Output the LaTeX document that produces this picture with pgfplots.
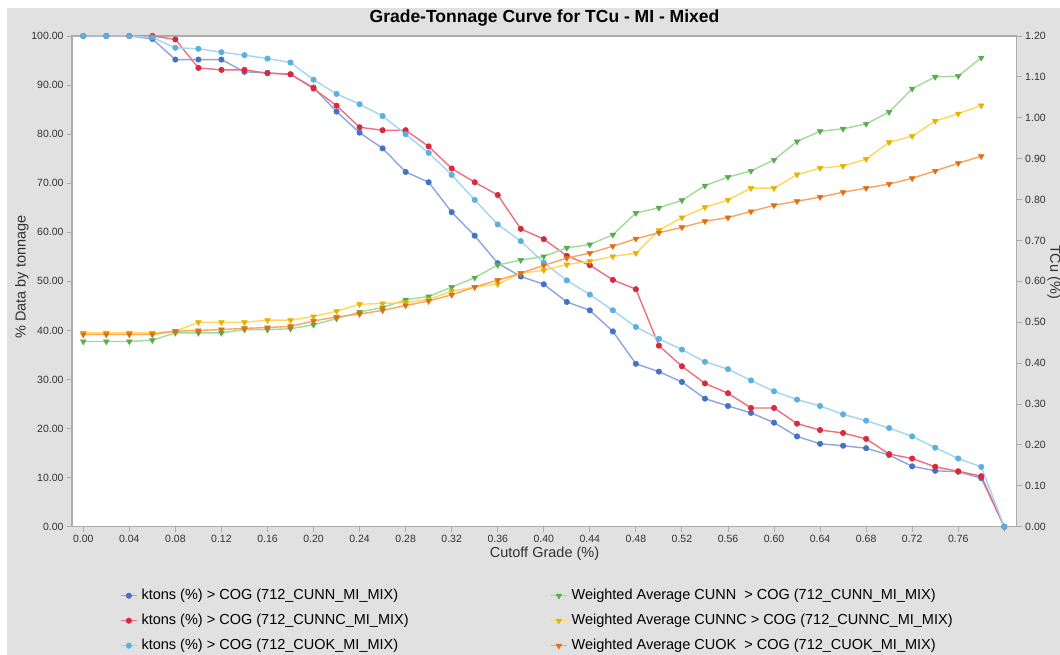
\documentclass[border=0pt]{standalone}
\usepackage{fontspec}
\setmainfont{Liberation Sans}
\usepackage{pgfplots}
\usepackage{pgfplotstable}
\pgfplotsset{compat=1.18}

\definecolor{bgc}{RGB}{225,225,225}
\definecolor{axc}{RGB}{172,172,172}
\definecolor{tlc}{RGB}{50,50,50}
\definecolor{blueM}{RGB}{68,114,196}
\definecolor{blueL}{RGB}{140,165,222}
\definecolor{redM}{RGB}{220,40,60}
\definecolor{redL}{RGB}{240,110,125}
\definecolor{cyanM}{RGB}{91,176,224}
\definecolor{cyanL}{RGB}{160,215,242}
\definecolor{greenM}{RGB}{90,170,80}
\definecolor{greenL}{RGB}{160,220,150}
\definecolor{yellowM}{RGB}{228,178,0}
\definecolor{yellowL}{RGB}{255,215,90}
\definecolor{orangeM}{RGB}{225,110,20}
\definecolor{orangeL}{RGB}{250,165,95}

% ktons (%) above cut-off, 0.00 .. 0.80
\pgfplotstableread{
x     cunn  cunnc cuok
0.00  100   100   100
0.02  100   100   100
0.04  100   100   100
0.06  99.4  100   99.7
0.08  95.2  99.3  97.6
0.10  95.2  93.5  97.4
0.12  95.2  93.1  96.7
0.14  92.7  93.1  96.1
0.16  92.5  92.4  95.4
0.18  92.2  92.2  94.6
0.20  89.5  89.3  91.1
0.22  84.6  85.8  88.2
0.24  80.3  81.4  86.1
0.26  77.1  80.8  83.7
0.28  72.3  80.8  80.0
0.30  70.2  77.5  76.2
0.32  64.1  73.0  71.7
0.34  59.3  70.2  66.6
0.36  53.7  67.6  61.6
0.38  51.0  60.7  58.2
0.40  49.4  58.6  53.8
0.42  45.8  55.2  50.2
0.44  44.1  53.3  47.3
0.46  39.8  50.3  44.1
0.48  33.2  48.4  40.7
0.50  31.6  36.9  38.3
0.52  29.5  32.7  36.1
0.54  26.1  29.2  33.6
0.56  24.6  27.2  32.1
0.58  23.2  24.2  29.8
0.60  21.2  24.2  27.6
0.62  18.4  21.0  25.9
0.64  16.9  19.7  24.6
0.66  16.5  19.1  22.9
0.68  16.0  17.9  21.6
0.70  14.6  14.8  20.1
0.72  12.3  13.9  18.4
0.74  11.4  12.2  16.1
0.76  11.2  11.3  13.9
0.78  9.9   10.3  12.2
0.80  0     0     0
}\ktons

% weighted average grade above cut-off, 0.00 .. 0.78
\pgfplotstableread{
x     cunn   cunnc  cuok
0.00  0.453  0.474  0.470
0.02  0.453  0.474  0.470
0.04  0.453  0.474  0.470
0.06  0.456  0.474  0.470
0.08  0.474  0.478  0.478
0.10  0.474  0.500  0.480
0.12  0.474  0.500  0.482
0.14  0.482  0.500  0.485
0.16  0.482  0.505  0.487
0.18  0.484  0.505  0.490
0.20  0.494  0.514  0.503
0.22  0.509  0.527  0.513
0.24  0.525  0.544  0.520
0.26  0.536  0.546  0.529
0.28  0.555  0.548  0.541
0.30  0.563  0.556  0.552
0.32  0.586  0.576  0.567
0.34  0.609  0.586  0.586
0.36  0.640  0.593  0.603
0.38  0.652  0.620  0.620
0.40  0.661  0.627  0.639
0.42  0.682  0.641  0.657
0.44  0.690  0.649  0.669
0.46  0.714  0.661  0.686
0.48  0.767  0.669  0.704
0.50  0.780  0.725  0.719
0.52  0.798  0.756  0.732
0.54  0.834  0.781  0.747
0.56  0.855  0.799  0.756
0.58  0.870  0.828  0.771
0.60  0.897  0.828  0.786
0.62  0.942  0.861  0.796
0.64  0.967  0.877  0.806
0.66  0.973  0.882  0.818
0.68  0.985  0.899  0.828
0.70  1.014  0.940  0.838
0.72  1.071  0.955  0.852
0.74  1.100  0.992  0.870
0.76  1.102  1.010  0.889
0.78  1.147  1.030  0.906
}\wavg

\pgfplotsset{
  base/.style={
    at={(72pt,-526.7pt)}, anchor=south west,
    scale only axis, width=944.7pt, height=490.7pt,
    xmin=-0.0098, xmax=0.8108,
    axis line style={draw=axc, line width=1.4pt},
    tick style={draw=axc, line width=0.9pt},
    major tick length=5pt, tick align=outside,
    ticklabel style={font=\fontsize{10.5}{12}\selectfont, text=tlc},
    every axis plot/.append style={line width=1.4pt},
    legend cell align=left,
    legend image code/.code={
      \draw[mark repeat=2, mark phase=2] plot coordinates {(0pt,0pt) (8pt,0pt) (16pt,0pt)};},
    legend style={draw=none, fill=none, font=\fontsize{14.5}{16}\selectfont,
      nodes={inner xsep=4pt, inner ysep=0pt, text height=10pt, text depth=3pt},
      row sep=12pt},
  },
  dot/.style={mark=*, mark size=2.7pt, mark options={draw=#1, fill=#1, line width=0.6pt}},
  tri/.style={mark=triangle*, mark size=3.3pt, mark options={rotate=180, draw=#1, fill=#1, line width=0.5pt}},
}

\begin{document}
\begin{tikzpicture}
\fill[white] (0pt,0pt) rectangle (1060pt,-655pt);
\fill[bgc] (7pt,-8pt) rectangle (1060pt,-655pt);
\path[use as bounding box] (0pt,0pt) rectangle (1060pt,-655pt);

\begin{axis}[base,
  ymin=0, ymax=100,
  axis background/.style={fill=white},
  xtick pos=left, ytick pos=left,
  xtick={0,0.04,0.08,0.12,0.16,0.20,0.24,0.28,0.32,0.36,0.40,0.44,0.48,0.52,0.56,0.60,0.64,0.68,0.72,0.76,0.80},
  xticklabels={0.00,0.04,0.08,0.12,0.16,0.20,0.24,0.28,0.32,0.36,0.40,0.44,0.48,0.52,0.56,0.60,0.64,0.68,0.72,0.76,{}},
  ytick={0,10,...,100},
  yticklabel style={/pgf/number format/.cd, fixed, fixed zerofill, precision=2, assume math mode=true},
  legend style={at={(0.0476,-0.1229)}, anchor=north west},
]
  \addplot[blueL, dot=blueM] table[x=x, y=cunn] {\ktons};
  \addlegendentry{ktons (\%) > COG (712\_CUNN\_MI\_MIX)}
  \addplot[redL, dot=redM] table[x=x, y=cunnc] {\ktons};
  \addlegendentry{ktons (\%) > COG (712\_CUNNC\_MI\_MIX)}
  \addplot[cyanL, dot=cyanM] table[x=x, y=cuok] {\ktons};
  \addlegendentry{ktons (\%) > COG (712\_CUOK\_MI\_MIX)}
\end{axis}

\begin{axis}[base,
  ymin=0, ymax=1.2,
  axis x line=none, axis y line*=right,
  ytick={0,0.1,...,1.21},
  yticklabel style={/pgf/number format/.cd, fixed, fixed zerofill, precision=2, assume math mode=true},
  legend style={at={(0.5028,-0.1229)}, anchor=north west},
]
  \addplot[greenL, tri=greenM] table[x=x, y=cunn] {\wavg};
  \addlegendentry{Weighted Average CUNN\ \ > COG (712\_CUNN\_MI\_MIX)}
  \addplot[yellowL, tri=yellowM] table[x=x, y=cunnc] {\wavg};
  \addlegendentry{Weighted Average CUNNC > COG (712\_CUNNC\_MI\_MIX)}
  \addplot[orangeL, tri=orangeM] table[x=x, y=cuok] {\wavg};
  \addlegendentry{Weighted Average CUOK\ \ > COG (712\_CUOK\_MI\_MIX)}
\end{axis}

\node[font=\bfseries\fontsize{17.5}{20}\selectfont] at (544.5pt,-18pt) {Grade-Tonnage Curve for TCu - MI - Mixed};
\node[font=\fontsize{14.5}{16}\selectfont, text=tlc] at (544.5pt,-554pt) {Cutoff Grade (\%)};
\node[font=\fontsize{14.5}{16}\selectfont, text=tlc, rotate=90] at (22pt,-277pt) {\% Data by tonnage};
\node[font=\fontsize{14.5}{16}\selectfont, text=tlc, rotate=-90] at (1054pt,-272pt) {TCu (\%)};
\end{tikzpicture}
\end{document}
